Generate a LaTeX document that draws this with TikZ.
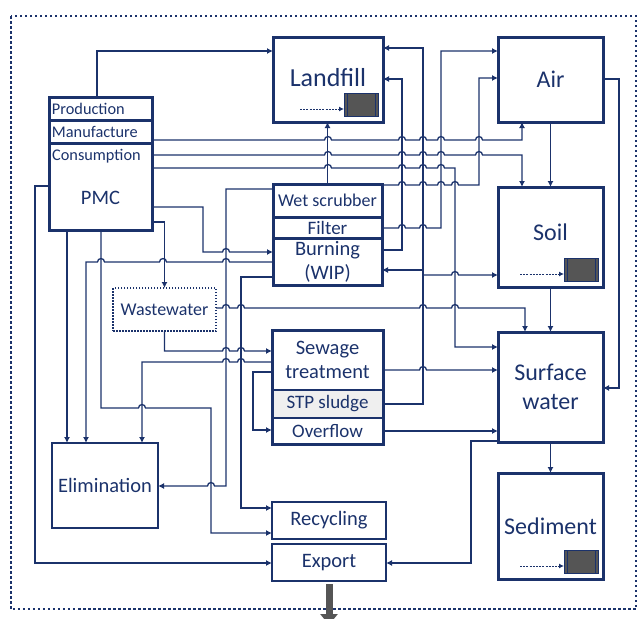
\documentclass[tikz,border=0pt]{standalone}
\usepackage{fontspec}
\setmainfont{Carlito}
\usetikzlibrary{arrows.meta,calc}
\definecolor{navy}{HTML}{1B326B}
\definecolor{sinkgray}{HTML}{555555}
\definecolor{sludge}{HTML}{EFEFEF}
\newcommand\bigfont{\fontsize{24}{29}\selectfont}
\newcommand\midfont{\fontsize{20.5}{24}\selectfont}
\newcommand\smallfont{\fontsize{19}{22}\selectfont}
\newcommand\wetfont{\fontsize{18}{21}\selectfont}
\newcommand\tinyfont{\fontsize{16.3}{19}\selectfont}
% hops of a horizontal line over a vertical one
\newcommand\hop[2]{-- (#1-3.5,#2) arc[start angle=180,end angle=360,radius=3.5]}
\newcommand\hopl[2]{-- (#1+3.5,#2) arc[start angle=0,end angle=-180,radius=3.5]}
\newcommand\sink[1]{%
  \begin{scope}[shift={(#1.south east)}]
    \draw[sinkflow] (-83,-13) -- (-39,-13);
    \draw[navy, fill=sinkgray, line width=0.8pt] (-39,-29) rectangle (-5,-6);
    \draw[navy, line width=0.8pt] (-36,-29) -- (-36,-6) (-8,-29) -- (-8,-6);
  \end{scope}}
\tikzset{
  box/.style={draw=navy, line width=3pt, inner sep=0pt, outer sep=0pt, text=navy, align=center},
  thinbox/.style={box, line width=1.5pt},
  lbl/.style={inner sep=0pt, text=navy},
  flow/.style={draw=navy, line width=1.3pt, -{Latex[length=6pt,width=6pt]}},
  sinkflow/.style={draw=navy, line width=1pt, dash pattern=on 2pt off 1.2pt, -{Latex[length=5pt,width=5pt]}}
}
\begin{document}
\begin{tikzpicture}[x=1pt,y=-1pt]
\useasboundingbox (0,0) rectangle (638,619);
\draw[navy, line width=2pt, dash pattern=on 2.5pt off 2.5pt] (11,16) rectangle (636,609);

\node[box, minimum width=103pt, minimum height=23pt, text width=97pt, align=left, font=\tinyfont] (prod) at (100.5,108.5) {Production};
\node[box, minimum width=103pt, minimum height=23pt, text width=97pt, align=left, font=\tinyfont] (manu) at (100.5,131.5) {Manufacture};
\node[box, minimum width=103pt, minimum height=87pt] (pmc) at (100.5,186.5) {};
\node[lbl, anchor=west, font=\tinyfont] (cons) at (52,156) {Consumption};
\node[lbl, font=\midfont] (pmclbl) at (100.5,198) {PMC};

\node[box, minimum width=110pt, minimum height=85pt, text depth=5pt, font=\fontsize{26}{30}\selectfont] (landfill) at (328,79.5) {Landfill};
\node[box, minimum width=105pt, minimum height=85pt, font=\bigfont] (air) at (550.5,79.5) {Air};
\node[box, minimum width=105pt, minimum height=100pt, text depth=10pt, font=\bigfont] (soil) at (550.5,237) {Soil};
\node[box, minimum width=105pt, minimum height=110pt, font=\bigfont] (sw) at (550.5,387) {Surface\\water};
\node[box, minimum width=105pt, minimum height=106pt, font=\bigfont] (sed) at (550.5,526) {Sediment};

\node[box, minimum width=109pt, minimum height=33pt, font=\wetfont] (wet) at (327.5,200.5) {Wet scrubber};
\node[box, minimum width=109pt, minimum height=21pt, font=\smallfont] (filter) at (327.5,227.5) {Filter};
\node[box, minimum width=109pt, minimum height=47pt, font=\midfont] (burn) at (327.5,261.5) {Burning\\(WIP)};

\node[thinbox, dash pattern=on 1.5pt off 1.5pt, minimum width=103pt, minimum height=43pt, font=\wetfont] (ww) at (164.5,309.5) {Wastewater};

\node[box, line width=1.2pt, minimum width=111pt, minimum height=60pt, font=\midfont] (sew) at (327.5,360) {Sewage\\treatment};
\node[box, line width=1.2pt, fill=sludge, minimum width=111pt, minimum height=28pt, font=\smallfont] (stp) at (327.5,404) {STP sludge};
\node[box, line width=1.2pt, minimum width=111pt, minimum height=26pt, font=\smallfont] (ovf) at (327.5,431) {Overflow};
\draw[navy, line width=3pt] (sew.north west) rectangle (ovf.south east);

\node[thinbox, minimum width=106pt, minimum height=85pt, font=\midfont] (elim) at (105,485.5) {Elimination};
\node[thinbox, minimum width=114pt, minimum height=37pt, font=\midfont] (rec) at (329,520.5) {Recycling};
\node[thinbox, minimum width=114pt, minimum height=37pt, font=\midfont] (exp) at (329,562.5) {Export};

\sink{landfill}
\sink{soil}
\sink{sed}

\coordinate (sj1) at (423,270);
\coordinate (sj2) at (423,275);

\draw[flow] (97,0 |- prod.north) -- (97,51) -- (landfill.west |- 0,51);
\draw[flow] (wet.north) -- (wet.north |- landfill.south);
\draw[flow] (burn.east |- 0,250) -- (402,250) -- (402,79) -- (landfill.east |- 0,79);
\draw[flow] (stp.east) -- (423,404) -- (423,48) -- (landfill.east |- 0,48);
\draw[flow] (sj1) -- (burn.east |- sj1);
\draw[flow] (sj2) \hop{455}{275} -- (soil.west |- sj2);
\draw[flow] (filter.east |- 0,228) \hop{402}{228} \hop{423}{228} -- (441,228) -- (441,51) -- (air.west |- 0,51);
\draw[flow] (wet.east |- 0,185) \hop{402}{185} \hop{423}{185} \hop{441}{185} \hop{455}{185} -- (479,185) -- (479,78) -- (air.west |- 0,78);
\draw[flow] (manu.east |- 0,140) \hop{328}{140} \hop{402}{140} \hop{423}{140} \hop{441}{140} \hop{479}{140} -- (522,140) -- (522,0 |- air.south);
\draw[flow] (pmc.east |- 0,155) \hop{328}{155} \hop{402}{155} \hop{423}{155} \hop{441}{155} \hop{479}{155} -- (522,155) -- (522,0 |- soil.north);
\draw[flow] (pmc.east |- 0,168) \hop{328}{168} \hop{402}{168} \hop{423}{168} \hop{441}{168} -- (455,168) -- (455,347) -- (sw.west |- 0,347);
\draw[flow] (air.south) -- (soil.north);
\draw[flow] (air.east |- 0,79) -- (619,79) -- (619,388) -- (sw.east |- 0,388);
\draw[flow] (soil.south) -- (sw.north);
\draw[flow] (sw.south) -- (sed.north);
\draw[flow] (ww.east |- 0,308) \hop{226}{308} \hop{241}{308} \hop{423}{308} \hop{455}{308} -- (525,308) -- (525,0 |- sw.north);
\draw[flow] (sew.east |- 0,370) \hop{423}{370} -- (sw.west |- 0,370);
\draw[flow] (ovf.east) -- (sw.west |- ovf.east);
\draw[flow] (sw.west |- 0,441) -- (471,441) -- (471,563) -- (exp.east |- 0,563);

\draw[flow] (pmc.east |- 0,207) -- (203,207) -- (203,252) \hop{226}{252} -- (burn.west |- 0,252);
\draw[flow] (pmc.east |- 0,222) -- (ww.north |- 0,222) -- (ww.north);
\draw[flow] (burn.west |- 0,262) \hopl{226}{262} \hopl{163}{262} \hopl{101}{262} -- (86,262) -- (86,0 |- elim.north);
\draw[flow] (burn.west |- 0,277) -- (241,277) -- (241,508) -- (rec.west |- 0,508);
\draw[flow] (wet.west |- 0,189) -- (226,189) -- (226,486) \hopl{211}{486} -- (elim.east |- 0,486);
\draw[flow] (67,0 |- pmc.south) -- (67,0 |- elim.north);
\draw[flow] (101,0 |- pmc.south) -- (101,408) \hop{142}{408} -- (211,408) -- (211,533) -- (rec.west |- 0,533);
\draw[flow] (pmc.west |- 0,186) -- (35,186) -- (35,563) -- (exp.west |- 0,563);
\draw[flow] (ww.south) -- (ww.south |- 0,351) \hop{226}{351} \hop{241}{351} -- (sew.west |- 0,351);
\draw[flow] (sew.west |- 0,362) \hopl{241}{362} \hopl{226}{362} -- (142,362) -- (142,0 |- elim.north);
\draw[flow] (sew.west |- 0,372) -- (253,372) -- (253,430) -- (ovf.west |- 0,430);

\draw[draw=sinkgray, line width=7pt, -{Triangle[length=11pt,width=17pt]}] ([yshift=-3pt]exp.south) -- ++(0,41);
\end{tikzpicture}
\end{document}
